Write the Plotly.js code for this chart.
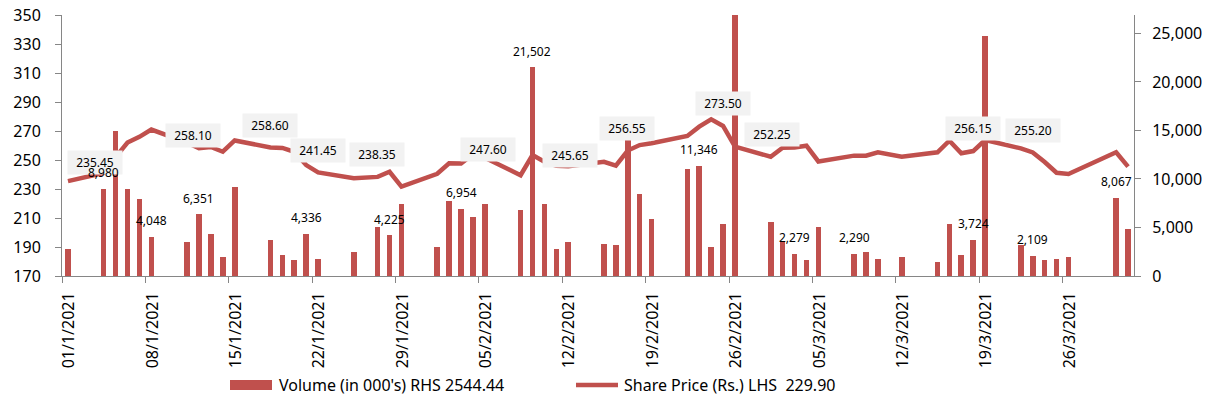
<!DOCTYPE html>
<html><head><meta charset="utf-8">
<script src="https://cdn.plot.ly/plotly-3.0.1.min.js"></script>
<style>html,body{margin:0;padding:0;background:#fff;}#chart{width:1206px;height:405px;}</style>
</head><body><div id="chart"></div>
<script>
// ---------- data ----------
const dates = [
'2021-01-01','2021-01-04','2021-01-05','2021-01-06','2021-01-07','2021-01-08',
'2021-01-11','2021-01-12','2021-01-13','2021-01-14','2021-01-15',
'2021-01-18','2021-01-19','2021-01-20','2021-01-21','2021-01-22',
'2021-01-25','2021-01-27','2021-01-28','2021-01-29',
'2021-02-01','2021-02-02','2021-02-03','2021-02-04','2021-02-05',
'2021-02-08','2021-02-09','2021-02-10','2021-02-11','2021-02-12',
'2021-02-15','2021-02-16','2021-02-17','2021-02-18','2021-02-19',
'2021-02-22','2021-02-23','2021-02-24','2021-02-25','2021-02-26',
'2021-03-01','2021-03-02','2021-03-03','2021-03-04','2021-03-05',
'2021-03-08','2021-03-09','2021-03-10','2021-03-12',
'2021-03-15','2021-03-16','2021-03-17','2021-03-18','2021-03-19',
'2021-03-22','2021-03-23','2021-03-24','2021-03-25','2021-03-26',
'2021-03-30','2021-03-31'];
const volume = [
2780, 8980, 14950, 8960, 7930, 4048,
3470, 6351, 4330, 1960, 9140,
3680, 2130, 1615, 4336, 1785,
2470, 5050, 4225, 7420,
2990, 7760, 6954, 6080, 7420,
6770, 21502, 7420, 2820, 3500,
3330, 3160, 14250, 8450, 5870,
11020, 11346, 2990, 5360, 27500,
5530, 3640, 2279, 1620, 5050,
2290, 2470, 1785, 1960,
1440, 5390, 2130, 3724, 24750,
3160, 2109, 1620, 1785, 1960,
8067, 4870];
const price = [
235.45, 241.0, 252.0, 262.0, 266.0, 271.0,
262.0, 258.10, 259.0, 255.7, 263.5,
258.60, 258.3, 255.7, 246.5, 241.45,
237.4, 238.35, 241.9, 231.6,
240.5, 247.7, 247.60, 254.0, 251.5,
239.5, 253.4, 248.8, 246.0, 245.65,
248.8, 246.1, 256.55, 260.3, 261.5,
266.6, 273.0, 278.0, 273.50, 259.2,
252.25, 258.5, 258.7, 259.9, 249.0,
253.0, 253.0, 255.3, 252.3,
255.3, 263.3, 254.6, 256.15, 263.8,
258.0, 255.20, 248.6, 241.2, 240.3,
255.3, 245.4];
const volumeLabelDates = ['2021-01-04','2021-01-08','2021-01-12','2021-01-21','2021-01-28','2021-02-03',
  '2021-02-09','2021-02-23','2021-03-03','2021-03-08','2021-03-18','2021-03-23','2021-03-30'];
const priceLabelDates = ['2021-01-01','2021-01-12','2021-01-18','2021-01-22','2021-01-27','2021-02-03',
  '2021-02-12','2021-02-17','2021-02-25','2021-03-01','2021-03-18','2021-03-23'];
const tickDates = ['2021-01-01','2021-01-08','2021-01-15','2021-01-22','2021-01-29','2021-02-05',
  '2021-02-12','2021-02-19','2021-02-26','2021-03-05','2021-03-12','2021-03-19','2021-03-26'];
const tickLabels = ['01/1/2021','08/1/2021','15/1/2021','22/1/2021','29/1/2021','05/2/2021',
  '12/2/2021','19/2/2021','26/2/2021','05/3/2021','12/3/2021','19/3/2021','26/3/2021'];
const leftTicks = [170,190,210,230,250,270,290,310,330,350];
const rightTicks = [0,5000,10000,15000,20000,25000];
const volumeName = "Volume (in 000's) RHS 2544.44";
const priceName = "Share Price (Rs.) LHS  229.90";

// ---------- style / layout ----------
const RED = '#C0504D', GRAY = '#868686', FONT = 'Noto Sans';
const W = 1206, H = 405, L = 62, R = 72, T = 15, B = 129;
const PW = W - L - R, PH = H - T - B;
const px = v => (v - L) / PW;           // pixel -> paper x
const py = v => (H - B - v) / PH;       // pixel -> paper y
const mid = d => d + ' 12:00';
const DAY = 86400000;

const xs = dates.map(mid);
const traces = [
  {type:'bar', x: xs, y: volume, yaxis:'y2', name: volumeName,
   marker:{color:RED, line:{width:0}}, width: 0.47*DAY, showlegend:false, hoverinfo:'skip'},
  {type:'scatter', mode:'lines', x: xs, y: price, yaxis:'y', name: priceName,
   line:{color:RED, width:4.5}, showlegend:false, hoverinfo:'skip'}
];

const annotations = [];
// price label boxes (offsets in px)
const pShift = [[27,19],[-6,13],[0,22],[0,22],[-1,22],[27,14],[2,11],[-1,22],[0,22],[1,22],[0,23],[0,22]];
priceLabelDates.forEach((d,i) => {
  const v = price[dates.indexOf(d)];
  annotations.push({x: mid(d), y: v, xref:'x', yref:'y', text: v.toFixed(2), showarrow:false,
    xshift: pShift[i][0], yshift: pShift[i][1], bgcolor:'#F2F2F2', width:54, height:23, borderpad:0,
    font:{family:FONT, size:12, color:'#000'}});
});
volumeLabelDates.forEach(d => {
  const v = volume[dates.indexOf(d)];
  annotations.push({x: mid(d), y: v, xref:'x', yref:'y2', text: v.toLocaleString('en-US'), showarrow:false,
    yshift: 16, font:{family:FONT, size:12, color:'#000'}});
});
// custom legend
annotations.push({x: px(277), y: py(385), xref:'paper', yref:'paper', xanchor:'left', yanchor:'middle',
  text: volumeName, showarrow:false, font:{family:FONT, size:16, color:'#000'}});
annotations.push({x: px(622), y: py(385), xref:'paper', yref:'paper', xanchor:'left', yanchor:'middle',
  text: priceName, showarrow:false, font:{family:FONT, size:16, color:'#000'}});
const shapes = [
  {type:'rect', xref:'paper', yref:'paper', x0:px(230), x1:px(272), y0:py(390), y1:py(380),
   fillcolor:RED, line:{width:0}},
  {type:'line', xref:'paper', yref:'paper', x0:px(576), x1:px(618), y0:py(385), y1:py(385),
   line:{color:RED, width:4.5}}
];

const axisCommon = {showline:true, linecolor:GRAY, linewidth:1, ticks:'outside', ticklen:6, tickcolor:GRAY,
  showgrid:false, zeroline:false, tickfont:{family:FONT, size:16, color:'#000'}, fixedrange:true};
const layout = {
  width: W, height: H, margin:{l:L, r:R, t:T, b:B, pad:0},
  paper_bgcolor:'#fff', plot_bgcolor:'#fff', showlegend:false,
  font:{family:FONT, color:'#000'},
  xaxis: Object.assign({}, axisCommon, {type:'date', range:['2021-01-01','2021-04-01'],
    tickmode:'array', tickvals: tickDates, ticktext: tickLabels, tickangle:-90,
    ticklabelshift: 7, ticklabelstandoff: 3}),
  yaxis: Object.assign({}, axisCommon, {range:[170,350], tickmode:'array', tickvals:leftTicks,
    ticklabelstandoff: 11}),
  yaxis2: Object.assign({}, axisCommon, {range:[0,26900], overlaying:'y', side:'right',
    tickmode:'array', tickvals:rightTicks, tickformat:',', ticklabelstandoff: 8}),
  bargap: 0, annotations, shapes
};
Plotly.newPlot('chart', traces, layout, {staticPlot:true, displayModeBar:false});
</script></body></html>
